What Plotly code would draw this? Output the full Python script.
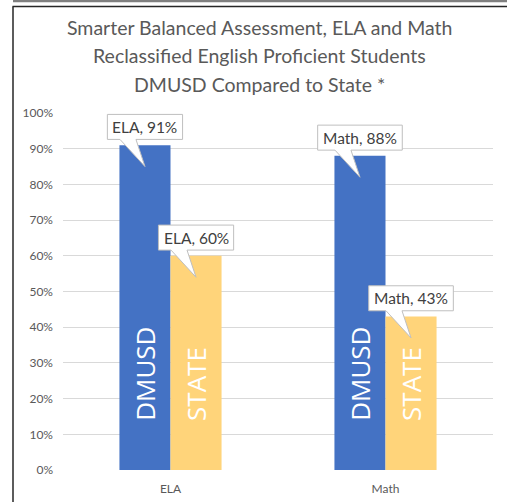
import plotly.graph_objects as go

categories = ["ELA", "Math"]
series_names = ["DMUSD", "STATE"]
dmusd_values = [91, 88]
state_values = [60, 43]
y_tick_values = [0, 10, 20, 30, 40, 50, 60, 70, 80, 90, 100]
y_tick_labels = [f"{v}%" for v in y_tick_values]
title_lines = ["Smarter Balanced Assessment, ELA and Math",
               "Reclassified English Proficient Students",
               "DMUSD Compared to State *"]

W, H = 507, 502
ML, MR, MT, MB = 63, 14, 113, 32
PW = W - ML - MR
PH = H - MT - MB
BARGAP = 0.525
colors = ["#4472C4", "#FFD47A"]

xpos = list(range(len(categories)))
px_x = 2.0 / PW          # data units per pixel along x
px_y = 100.0 / PH        # data units per pixel along y

fig = go.Figure()
for name, vals, col in zip(series_names, [dmusd_values, state_values], colors):
    fig.add_trace(go.Bar(x=xpos, y=vals, name=name, marker=dict(color=col, line=dict(width=0)),
                         hoverinfo="skip"))

shapes = []
annotations = []
offset = (1 - BARGAP) / 4
for si, (name, vals) in enumerate(zip(series_names, [dmusd_values, state_values])):
    dx = -offset if si == 0 else offset
    for ci, v in enumerate(vals):
        xc = xpos[ci] + dx
        label = f"{categories[ci]}, {v}%"
        wpx = 9.4 * len(label)
        hw = wpx / 2 * px_x
        bottom = v + 1.6
        top = bottom + 25 * px_y
        tip_y = v - 6
        b1 = xc - 25 * px_x
        b2 = xc - 9 * px_x
        path = (f"M {xc-hw},{bottom} L {xc-hw},{top} L {xc+hw},{top} L {xc+hw},{bottom} "
                f"L {b2},{bottom} L {xc},{tip_y} L {b1},{bottom} Z")
        shapes.append(dict(type="path", xref="x", yref="y", path=path,
                           fillcolor="white", line=dict(color="#BFBFBF", width=1), layer="above"))
        annotations.append(dict(x=xc, y=(bottom + top) / 2, xref="x", yref="y", text=label,
                                showarrow=False, font=dict(size=15.5, color="#404040", family="Lato"),
                                xanchor="center", yanchor="middle"))
        annotations.append(dict(x=xc, y=13.2, xref="x", yref="y", text=name, textangle=-90,
                                showarrow=False, font=dict(size=26, color="white", family="Open Sans"),
                                xanchor="center", yanchor="bottom"))

def pxx(p):
    return (p - ML) / PW

def pxy(p):
    return (H - MB - p) / PH

# title lines
for line, ypx in zip(title_lines, [28, 56, 84]):
    annotations.append(dict(x=pxx(259), y=pxy(ypx), xref="paper", yref="paper", text=line,
                            showarrow=False, xanchor="center", yanchor="middle",
                            font=dict(size=19.5, color="#595959", family="Lato")))

# chart frame
shapes.append(dict(type="rect", xref="paper", yref="paper", x0=pxx(13), x1=pxx(507),
                   y0=pxy(2.3), y1=pxy(0), fillcolor="#7F7F7F", line=dict(width=0)))
shapes.append(dict(type="line", xref="paper", yref="paper", x0=pxx(12.5), x1=pxx(507),
                   y0=pxy(6.5), y1=pxy(6.5), line=dict(color="#262626", width=1.5)))
shapes.append(dict(type="line", xref="paper", yref="paper", x0=pxx(13), x1=pxx(13),
                   y0=pxy(6.5), y1=pxy(502), line=dict(color="#262626", width=1.5)))

fig.update_layout(
    width=W, height=H,
    margin=dict(l=ML, r=MR, t=MT, b=MB, autoexpand=False),
    paper_bgcolor="white", plot_bgcolor="white",
    barmode="group", bargap=BARGAP, bargroupgap=0,
    showlegend=False,
    font=dict(family="Lato", color="#595959"),
    xaxis=dict(range=[-0.5, 1.5], tickvals=xpos, ticktext=categories, showgrid=False,
               zeroline=False, showline=False, ticks="", tickfont=dict(size=12, color="#595959"),
               ticklabelstandoff=10, fixedrange=True, automargin=False),
    yaxis=dict(range=[0, 100], tickvals=y_tick_values, ticktext=y_tick_labels,
               showgrid=True, gridcolor="#D9D9D9", gridwidth=1, zeroline=False, showline=False,
               ticks="", tickfont=dict(size=12, color="#595959"), ticklabelstandoff=9,
               fixedrange=True, automargin=False),
    shapes=shapes, annotations=annotations,
)

fig.write_html("out.html", config={"displayModeBar": False},
               post_script="document.body.style.margin='0';document.body.style.padding='0';")
